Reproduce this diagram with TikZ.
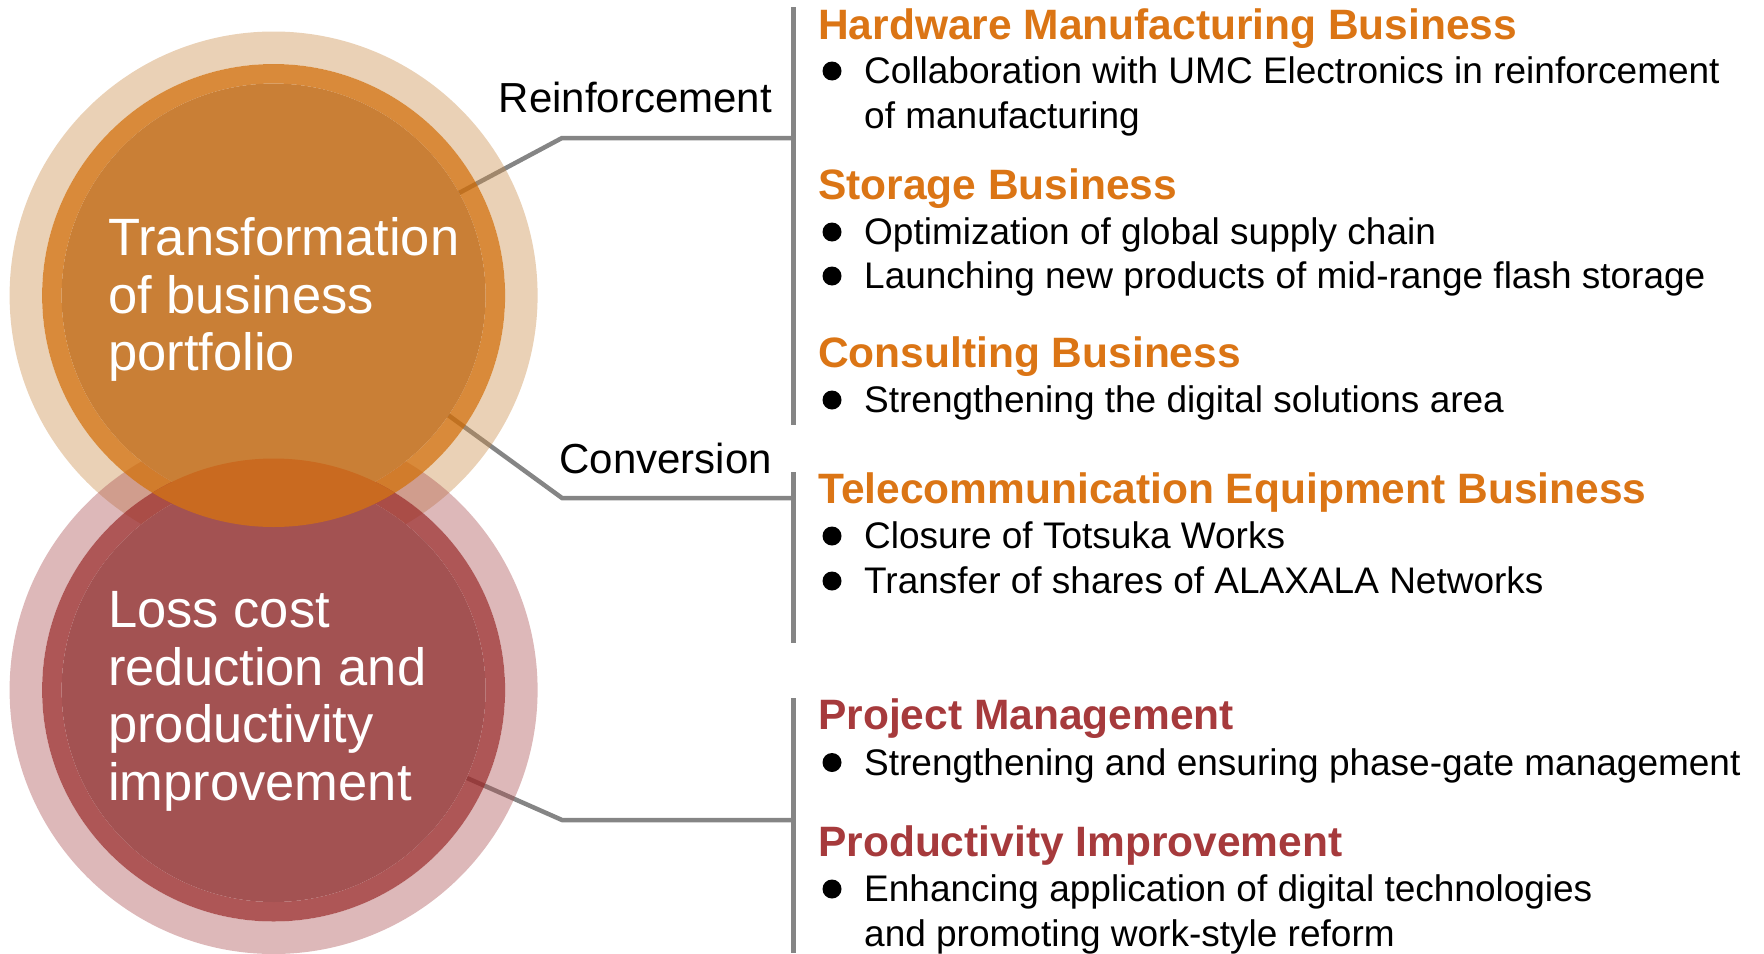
\documentclass[tikz,border=0pt]{standalone}
\usepackage{fontspec}
\setmainfont{Liberation Sans}
\definecolor{linegray}{HTML}{858585}
\definecolor{uOuter}{RGB}{202,140,72}
\definecolor{lOuter}{RGB}{170,78,80}
\definecolor{uMid}{RGB}{207,109,9}
\definecolor{lMid}{RGB}{154,44,44}
\definecolor{uIn}{RGB}{201,127,54}
\definecolor{lIn}{RGB}{163,82,82}
\definecolor{lensc}{RGB}{201,106,32}
\definecolor{headorange}{RGB}{219,117,21}
\definecolor{headred}{RGB}{166,58,60}
\begin{document}
\begin{tikzpicture}[x=1pt,y=-1pt,
  conn/.style={draw=linegray, line width=4.5pt},
  vline/.style={draw=linegray, line width=5pt},
  circtext/.style={text=white, font=\fontsize{52.5}{57.5}\selectfont, align=left, anchor=base west, inner sep=0pt},
  lab/.style={font=\fontsize{42}{48}\selectfont, anchor=base east, inner sep=0pt},
  headO/.style={font=\fontsize{42.5}{48}\selectfont\bfseries, text=headorange, anchor=base west, inner sep=0pt},
  headR/.style={font=\fontsize{42.5}{48}\selectfont\bfseries, text=headred, anchor=base west, inner sep=0pt},
  item/.style={font=\fontsize{37}{45}\selectfont, anchor=base west, inner sep=0pt},
  bdot/.style={fill=black}
]
\useasboundingbox (0,0) rectangle (1764,953);
\coordinate (ucen) at (273.6,295.5);
\coordinate (lcen) at (273.6,690);
% connector points
\coordinate (uA) at (459,193);
\coordinate (k1) at (562,138);
\coordinate (j1) at (793,138);
\coordinate (uB) at (448,415);
\coordinate (k2) at (562,498);
\coordinate (j2) at (793,498);
\coordinate (lA) at (467,778);
\coordinate (k3) at (562,820);
\coordinate (j3) at (793,820);
\coordinate (v1t) at (793,7);
\coordinate (v1b) at (793,425);
\coordinate (v2t) at (793,472);
\coordinate (v2b) at (793,643);
\coordinate (v3t) at (793,698);
\coordinate (v3b) at (793,953);
\draw[conn] (uA) -- (k1) -- (j1);
\draw[conn] (uB) -- (k2) -- (j2);
\draw[conn] (lA) -- (k3) -- (j3);
\draw[vline] (v1t) -- (v1b);
\draw[vline] (v2t) -- (v2b);
\draw[vline] (v3t) -- (v3b);
% circles
\fill[even odd rule, uOuter, fill opacity=.4] (ucen) circle (264pt) (ucen) circle (231.5pt);
\fill[even odd rule, lOuter, fill opacity=.4] (lcen) circle (264pt) (lcen) circle (231.5pt);
\fill[even odd rule, uMid, fill opacity=.8] (ucen) circle (231.5pt) (ucen) circle (212pt);
\fill[even odd rule, lMid, fill opacity=.8] (lcen) circle (231.5pt) (lcen) circle (212pt);
\fill[uIn] (ucen) circle (212pt);
\fill[lIn] (lcen) circle (212pt);
\begin{scope}
  \clip (ucen) circle (231.5pt);
  \fill[lensc] (lcen) circle (231.5pt);
\end{scope}
% circle texts (base anchor = last line's baseline)
\node[circtext] (ttxt) at (108,370.5) {Transformation\\of business\\portfolio};
\node[circtext] (ltxt) at (108,800) {Loss cost\\reduction and\\productivity\\improvement};
% labels
\node[lab] (reinf) at (772,112) {Reinforcement};
\node[lab] (conv) at (772,473) {Conversion};
% right column
\node[headO] (h1) at (818,39.3) {Hardware Manufacturing Business};
\fill[bdot] (832,71) circle (9.5pt);
\node[item] (i1a) at (864,83.3) {Collaboration with UMC Electronics in reinforcement};
\node[item] (i1b) at (864,128.3) {of manufacturing};
\node[headO] (h2) at (818,199) {Storage Business};
\fill[bdot] (832,232) circle (9.5pt);
\node[item] (i2a) at (864,244.5) {Optimization of global supply chain};
\fill[bdot] (832,276) circle (9.5pt);
\node[item] (i2b) at (864,288.5) {Launching new products of mid-range flash storage};
\node[headO] (h3) at (818,367.3) {Consulting Business};
\fill[bdot] (832,400) circle (9.5pt);
\node[item] (i3a) at (864,412.3) {Strengthening the digital solutions area};
\node[headO] (h4) at (818,503.3) {Telecommunication Equipment Business};
\fill[bdot] (832,536) circle (9.5pt);
\node[item] (i4a) at (864,548.3) {Closure of Totsuka Works};
\fill[bdot] (832,581) circle (9.5pt);
\node[item] (i4b) at (864,593.3) {Transfer of shares of ALAXALA Networks};
\node[headR] (h5) at (818,729.3) {Project Management};
\fill[bdot] (832,762.5) circle (9.5pt);
\node[item] (i5a) at (864,775) {Strengthening and ensuring phase-gate management};
\node[headR] (h6) at (818,856) {Productivity Improvement};
\fill[bdot] (832,889) circle (9.5pt);
\node[item] (i6a) at (864,901.7) {Enhancing application of digital technologies};
\node[item] (i6b) at (864,946.7) {and promoting work-style reform};
\end{tikzpicture}
\end{document}
